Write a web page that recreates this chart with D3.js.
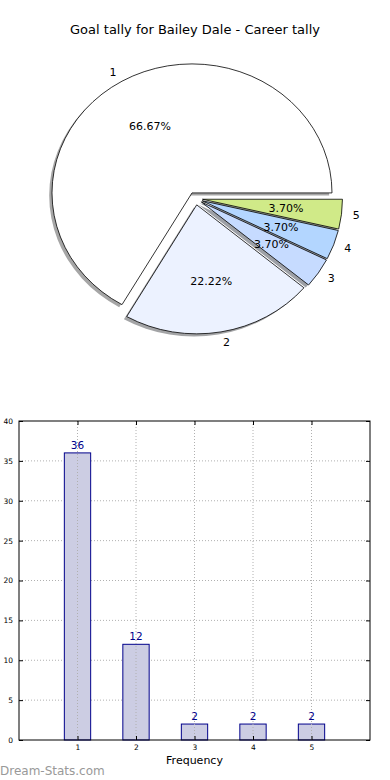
<!DOCTYPE html>
<html>
<head>
<meta charset="utf-8">
<script src="https://cdn.jsdelivr.net/npm/d3@7"></script>
<style>
  body { margin: 0; background: #fff; }
  svg { display: block; font-family: "DejaVu Sans", sans-serif; }
</style>
</head>
<body>
<svg width="390" height="780"></svg>
<script>
// data
const categories = ["1", "2", "3", "4", "5"];
const goals = [36, 12, 2, 2, 2];
const sliceColors = ["#ffffff", "#ecf2ff", "#c6dbff", "#b3d6ff", "#d0ea88"];
const yTicks = [0, 5, 10, 15, 20, 25, 30, 35, 40];

const svg = d3.select("svg");

svg.append("text")
  .attr("x", 195).attr("y", 34)
  .attr("text-anchor", "middle")
  .attr("font-size", 13)
  .attr("fill", "#000")
  .text("Goal tally for Bailey Dale - Career tally");

// ---- pie (matplotlib style: ccw from east, exploded, shadowed, elliptical) ----
const cx = 195.5, cy = 198.5, rx = 140, ry = 129, explode = 0.05;
const total = d3.sum(goals);

const pie = d3.pie().sort(null).startAngle(0).endAngle(2 * Math.PI);
const arcs = pie(goals).map((d, i) => {
  const t0 = d.startAngle, t1 = d.endAngle, mid = (t0 + t1) / 2;
  return {
    i, value: d.value, t0, t1, mid,
    ox: cx + explode * rx * Math.cos(mid),
    oy: cy - explode * ry * Math.sin(mid)
  };
});

// unit arc, mapped to matplotlib angles
const arc = d3.arc().innerRadius(0).outerRadius(1)
  .startAngle(d => Math.PI / 2 - d.t1)
  .endAngle(d => Math.PI / 2 - d.t0);

const pieG = svg.append("g");

// shadows first
pieG.selectAll(".shadow")
  .data(arcs)
  .join("path")
  .attr("class", "shadow")
  .attr("transform", d => `translate(${d.ox - 2.8},${d.oy + 2.6}) scale(${rx},${ry})`)
  .attr("d", arc)
  .attr("fill", d => {
    const c = d3.rgb(sliceColors[d.i]);
    return d3.rgb(c.r * 0.3, c.g * 0.3, c.b * 0.3);
  })
  .attr("fill-opacity", 0.5);

pieG.selectAll(".wedge")
  .data(arcs)
  .join("path")
  .attr("class", "wedge")
  .attr("transform", d => `translate(${d.ox},${d.oy}) scale(${rx},${ry})`)
  .attr("d", arc)
  .attr("fill", d => sliceColors[d.i])
  .attr("stroke", "#000")
  .attr("stroke-width", 0.8)
  .attr("vector-effect", "non-scaling-stroke");

// category labels at 1.1 r
pieG.selectAll(".lab")
  .data(arcs)
  .join("text")
  .attr("class", "lab")
  .attr("x", d => d.ox + 1.08 * rx * Math.cos(d.mid))
  .attr("y", d => d.oy - 1.08 * ry * Math.sin(d.mid))
  .attr("dy", "0.35em")
  .attr("text-anchor", d => Math.cos(d.mid) < 0 ? "end" : "start")
  .attr("font-size", 11)
  .text(d => categories[d.i]);

// percentage labels at 0.6 r
pieG.selectAll(".pct")
  .data(arcs)
  .join("text")
  .attr("class", "pct")
  .attr("x", d => d.ox + 0.6 * rx * Math.cos(d.mid))
  .attr("y", d => d.oy - 0.6 * ry * Math.sin(d.mid))
  .attr("dy", "0.35em")
  .attr("text-anchor", "middle")
  .attr("font-size", 11)
  .text(d => (d.value / total * 100).toFixed(2) + "%");

// ---- bar chart ----
const m = { left: 19, right: 370, top: 421, bottom: 740 };
const x = d3.scaleLinear().domain([0, 6]).range([m.left, m.right]);
const y = d3.scaleLinear().domain([0, 40]).range([m.bottom, m.top]);
const barW = 0.45;

const g = svg.append("g");

// grid
g.selectAll(".ygrid")
  .data(yTicks.slice(1, -1))
  .join("line")
  .attr("x1", m.left).attr("x2", m.right)
  .attr("y1", d => y(d)).attr("y2", d => y(d))
  .attr("stroke", "#b0b0b0").attr("stroke-width", 1)
  .attr("stroke-dasharray", "1,2");

// bars
g.selectAll(".bar")
  .data(goals)
  .join("rect")
  .attr("x", (d, i) => x(i + 1 - barW / 2))
  .attr("width", (d, i) => x(i + 1 + barW / 2) - x(i + 1 - barW / 2))
  .attr("y", d => y(d))
  .attr("height", d => y(0) - y(d))
  .attr("fill", "#cccde3")
  .attr("stroke", "#00008b")
  .attr("stroke-width", 1);

g.selectAll(".xgrid")
  .data(categories)
  .join("line")
  .attr("x1", (d, i) => x(i + 1)).attr("x2", (d, i) => x(i + 1))
  .attr("y1", m.top).attr("y2", m.bottom)
  .attr("stroke", "#b0b0b0").attr("stroke-width", 1)
  .attr("stroke-dasharray", "1,2");

// value labels
g.selectAll(".val")
  .data(goals)
  .join("text")
  .attr("x", (d, i) => x(i + 1))
  .attr("y", d => y(d) - 4)
  .attr("text-anchor", "middle")
  .attr("font-size", 10.5)
  .attr("fill", "#00008b")
  .text(d => d);

// axes frame
g.append("rect")
  .attr("x", m.left).attr("y", m.top)
  .attr("width", m.right - m.left).attr("height", m.bottom - m.top)
  .attr("fill", "none").attr("stroke", "#000").attr("stroke-width", 1);

// ticks (inward, matplotlib style)
const yAxis = d3.axisLeft(y).tickValues(yTicks).tickSizeInner(-4).tickSizeOuter(0).tickPadding(6);
const yG = g.append("g").attr("transform", `translate(${m.left},0)`).call(yAxis);
yG.select(".domain").remove();
yG.selectAll("text").attr("font-size", 7.5).attr("font-family", "DejaVu Sans").attr("fill", "#000");

const yAxisR = d3.axisRight(y).tickValues(yTicks).tickSizeInner(-4).tickSizeOuter(0).tickFormat("");
const yGR = g.append("g").attr("transform", `translate(${m.right},0)`).call(yAxisR);
yGR.select(".domain").remove();

const xAxis = d3.axisBottom(x).tickValues([1, 2, 3, 4, 5]).tickSizeInner(-4).tickSizeOuter(0).tickPadding(5)
  .tickFormat((d, i) => categories[i]);
const xG = g.append("g").attr("transform", `translate(0,${m.bottom})`).call(xAxis);
xG.select(".domain").remove();
xG.selectAll("text").attr("font-size", 7.5).attr("font-family", "DejaVu Sans").attr("fill", "#000");

const xAxisT = d3.axisTop(x).tickValues([1, 2, 3, 4, 5]).tickSizeInner(-4).tickSizeOuter(0).tickFormat("");
const xGT = g.append("g").attr("transform", `translate(0,${m.top})`).call(xAxisT);
xGT.select(".domain").remove();

svg.append("text")
  .attr("x", (m.left + m.right) / 2).attr("y", 764)
  .attr("text-anchor", "middle")
  .attr("font-size", 11)
  .text("Frequency");

svg.append("text")
  .attr("x", 0).attr("y", 775)
  .attr("font-size", 12)
  .attr("fill", "#999")
  .text("Dream-Stats.com");
</script>
</body>
</html>
